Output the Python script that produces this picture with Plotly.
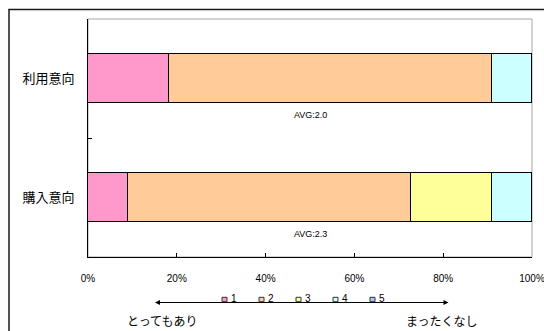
import plotly.graph_objects as go

categories = ["利用意向", "購入意向"]
levels = ["1", "2", "3", "4", "5"]
series = {
    "1": [0.182, 0.091],
    "2": [0.727, 0.636],
    "3": [0.0, 0.182],
    "4": [0.091, 0.091],
    "5": [0.0, 0.0],
}
averages = ["AVG:2.0", "AVG:2.3"]
colors = ["#FF99CC", "#FFCC99", "#FFFF99", "#CCFFFF", "#99CCFF"]
x_ticks = [0, 0.2, 0.4, 0.6, 0.8, 1.0]
left_label = "とってもあり"
right_label = "まったくなし"

W, H = 544, 331
ML, MR, MT, MB = 88, 12, 19, 74
PW = W - ML - MR
PH = H - MT - MB


def px(x):
    return (x - ML) / PW


def py(y):
    return (H - MB - y) / PH


JP = "Noto Sans CJK JP, sans-serif"
LAT = "Liberation Sans, Arial, sans-serif"

fig = go.Figure()
for lv, col in zip(levels, colors):
    fig.add_trace(go.Bar(
        y=categories, x=series[lv], name=lv, orientation="h",
        marker=dict(color=col, line=dict(color="#000000", width=1)),
        width=0.41, showlegend=False,
    ))

shapes = [
    dict(type="rect", xref="paper", yref="paper", x0=0, x1=1, y0=0, y1=1,
         line=dict(color="#A6A6A6", width=1), layer="below"),
    dict(type="rect", xref="paper", yref="paper", x0=px(9), x1=px(600), y0=py(9.5), y1=py(400),
         line=dict(color="#1a1a1a", width=1.5), layer="below"),
]
annotations = []
for cat, avg in zip(categories, averages):
    annotations.append(dict(x=0.5, y=cat, xref="paper", yref="y", text=avg, showarrow=False,
                            xanchor="center", yanchor="middle",
                            yshift=-36.5, font=dict(family=LAT, size=9, color="#000")))

# custom legend
leg_x0 = 222
leg_step = 37
for i, (lv, col) in enumerate(zip(levels, colors)):
    x0 = leg_x0 + i * leg_step
    shapes.append(dict(type="rect", xref="paper", yref="paper",
                       x0=px(x0), x1=px(x0 + 5), y0=py(301.7), y1=py(297.3),
                       fillcolor=col, line=dict(color="#333333", width=1)))
    annotations.append(dict(x=px(x0 + 7), y=py(298.3), xref="paper", yref="paper", text=lv,
                            showarrow=False, xanchor="left", yanchor="middle",
                            font=dict(family=LAT, size=10, color="#000")))

# arrow
annotations.append(dict(x=px(155), y=py(302.5), xref="paper", yref="paper", text="",
                        showarrow=True, ax=295, ay=0, arrowside="end+start", arrowhead=2,
                        arrowsize=1, arrowwidth=1, arrowcolor="#000", standoff=0, startstandoff=0))
annotations.append(dict(x=px(161.7), y=py(320), xref="paper", yref="paper", text=left_label,
                        showarrow=False, xanchor="center", yanchor="middle",
                        font=dict(family=JP, size=12, color="#000")))
annotations.append(dict(x=px(442), y=py(320), xref="paper", yref="paper", text=right_label,
                        showarrow=False, xanchor="center", yanchor="middle",
                        font=dict(family=JP, size=12, color="#000")))

fig.update_layout(
    width=W, height=H, barmode="stack", bargap=0,
    margin=dict(l=ML, r=MR, t=MT, b=MB, autoexpand=False),
    paper_bgcolor="white", plot_bgcolor="white",
    shapes=shapes, annotations=annotations, showlegend=False,
    xaxis=dict(range=[0, 1], tickvals=x_ticks, tickformat=".0%", showgrid=False, zeroline=False,
               showline=True, linecolor="#000", linewidth=1, ticks="inside", ticklen=4,
               tickcolor="#000", ticklabelstandoff=12, ticklabeloverflow="allow", automargin=False,
               tickfont=dict(family=LAT, size=10, color="#000")),
    yaxis=dict(autorange="reversed", showgrid=False, zeroline=False, showline=True,
               linecolor="#000", linewidth=1, ticks="inside", ticklen=4, tickcolor="#000",
               tickson="boundaries", ticklabelstandoff=10, automargin=False,
               tickfont=dict(family=JP, size=13, color="#000")),
)
fig.write_html("out.html", config={"displayModeBar": False},
               post_script="document.body.style.margin='0';document.body.style.overflow='hidden';")
